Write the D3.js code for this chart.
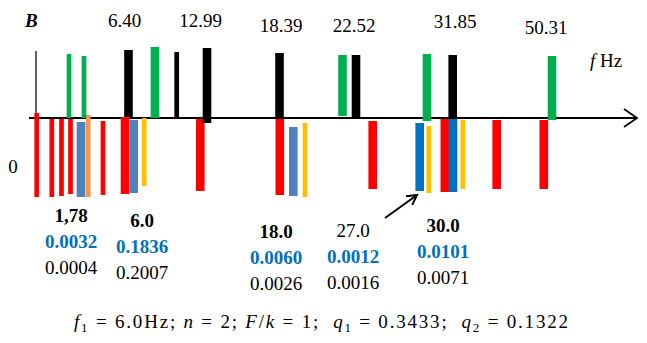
<!DOCTYPE html>
<html><head><meta charset="utf-8">
<script src="https://cdn.jsdelivr.net/npm/d3@7"></script>
<style>body{margin:0;background:#fff}svg{display:block}</style>
</head><body>
<script>
// ---- data ----
const upperPos    = [39, 54, 98.5, 125, 146.7, 177, 249.5, 312.5, 326, 397, 422.7, 522];
const upperBase   = [0, 0, 1, 0, 1, -5, -1, 2, -1, -3, -1, -2];
const upperTip    = [64, 62, 68, 71, 66, 70, 65, 63, 63, 64, 63, 62];
const upperSeries = ['green','green','black','green','black','black','black','green','black','green','black','green'];
const upperWeight = ['thin','thin','thick','thick','thin','thick','thick','thick','thick','thick','thick','thick'];

const lowerPos    = [6.7, 21.8, 31.5, 40.5, 51, 58.2, 73, 95, 103.7, 114.2, 170.3, 249.8, 263.3, 275, 342.7, 389.7, 398.8, 414.8, 423, 432.8, 466.7, 513.8];
const lowerBase   = [5, -1, -1, -1, -4, 3, -3, 1, -2, 0, -1, -1, -9, -5, -3, -5, -8, -1, -1, -2, -2, -2];
const lowerTip    = [-79, -79, -78, -76, -79, -79, -77, -76, -75, -68, -73, -77, -78, -79, -71, -73, -75, -74, -74, -71, -71, -71];
const lowerSeries = ['red','red','red','red','steel','orange','red','red','steel','yellow','red','red','steel','yellow','red','blue','yellow','red','blue','yellow','red','red'];
const lowerWeight = ['thin','thin','thin','thin','thick','thin','thin','thick','thick','thin','thick','thick','thick','thin','thick','thick','thin','thick','thick','thin','thick','thick'];

const topLabels   = ['6.40','12.99','18.39','22.52','31.85','50.31'];
const topPos      = [94.5, 170.5, 251, 324, 425, 516];
const topLevel    = [91, 91, 86, 86, 90, 84];

const groupFreq     = ['1,78','6.0','18.0','27.0','30.0'];
const groupFreqBold = [true, true, true, false, true];
const groupBlue     = ['0.0032','0.1836','0.0060','0.0012','0.0101'];
const groupBlack    = ['0.0004','0.2007','0.0026','0.0016','0.0071'];
const groupPos      = [41, 112, 246, 323, 413];
const groupLevel    = [-104, -109, -120, -119, -114];

// ---- styles ----
const colors = {red:'#FF0000', green:'#00B050', black:'#000000', steel:'#4F81BD', blue:'#0070C0', orange:'#F79646', yellow:'#FFC000'};
const widths = {thin:4.7, thick:8.6};

const W = 647, H = 343;
const svg = d3.select('body').append('svg').attr('width', W).attr('height', H);
const x = d3.scaleLinear().domain([0, 600]).range([30, 630]);
const y = d3.scaleLinear().domain([-80, 70]).range([198, 48]);
const serif = "'Liberation Serif','Times New Roman',serif";

// horizontal f axis with arrow
svg.append('line').attr('x1', x(-1)).attr('x2', x(606)).attr('y1', y(0)).attr('y2', y(0))
  .attr('stroke', '#000').attr('stroke-width', 2);
svg.append('path').attr('d', `M${x(594)},${y(9)} L${x(607)},${y(0)} L${x(594)},${y(-9)}`)
  .attr('fill', 'none').attr('stroke', '#000').attr('stroke-width', 1.8);
// vertical B axis
svg.append('line').attr('x1', x(6)).attr('x2', x(6)).attr('y1', y(0)).attr('y2', y(67))
  .attr('stroke', '#222').attr('stroke-width', 1.4);

function bars(pos, base, tip, series, weight) {
  svg.append('g').selectAll('rect').data(pos).join('rect')
    .attr('x', (d, i) => x(d) - widths[weight[i]] / 2)
    .attr('width', (d, i) => widths[weight[i]])
    .attr('y', (d, i) => y(Math.max(base[i], tip[i])))
    .attr('height', (d, i) => Math.abs(y(base[i]) - y(tip[i])))
    .attr('fill', (d, i) => colors[series[i]]);
}
bars(lowerPos, lowerBase, lowerTip, lowerSeries, lowerWeight);
bars(upperPos, upperBase, upperTip, upperSeries, upperWeight);

// top labels
svg.append('g').selectAll('text').data(topLabels).join('text')
  .attr('x', (d, i) => x(topPos[i])).attr('y', (d, i) => y(topLevel[i]))
  .attr('text-anchor', 'middle').attr('font-family', serif).attr('font-size', 19)
  .text(d => d);

svg.append('text').attr('x', x(-5)).attr('y', y(91)).attr('font-family', serif)
  .attr('font-size', 19).attr('font-weight', 'bold').attr('font-style', 'italic').text('B');
svg.append('text').attr('x', x(-17)).attr('y', y(-55)).attr('font-family', serif)
  .attr('font-size', 19).attr('text-anchor', 'middle').text('0');

const fhz = svg.append('text').attr('x', x(560)).attr('y', y(51)).attr('font-family', serif).attr('font-size', 19);
fhz.append('tspan').attr('font-style', 'italic').text('f');
fhz.append('tspan').text(' Hz');

// bottom groups
const g = svg.append('g').attr('font-family', serif).attr('font-size', 19).attr('text-anchor', 'middle');
groupFreq.forEach((f, i) => {
  const cx = x(groupPos[i]), by = y(groupLevel[i]);
  g.append('text').attr('x', cx).attr('y', by).attr('font-weight', groupFreqBold[i] ? 'bold' : 'normal').text(f);
  g.append('text').attr('x', cx).attr('y', by + 26).attr('font-weight', 'bold').attr('fill', colors.blue).text(groupBlue[i]);
  g.append('text').attr('x', cx).attr('y', by + 52).text(groupBlack[i]);
});

// annotation arrow
const a0 = [355, -100], a1 = [387, -77];
svg.append('line').attr('x1', x(a0[0])).attr('y1', y(a0[1])).attr('x2', x(a1[0])).attr('y2', y(a1[1]))
  .attr('stroke', '#000').attr('stroke-width', 2);
{
  const X1 = x(a1[0]), Y1 = y(a1[1]);
  const ang = Math.atan2(y(a1[1]) - y(a0[1]), x(a1[0]) - x(a0[0]));
  const L = 11, s = 0.5;
  const p1 = [X1 - L * Math.cos(ang - s), Y1 - L * Math.sin(ang - s)];
  const p2 = [X1 - L * Math.cos(ang + s), Y1 - L * Math.sin(ang + s)];
  svg.append('path').attr('d', `M${p1} L${X1},${Y1} L${p2}`).attr('fill', 'none')
    .attr('stroke', '#000').attr('stroke-width', 2);
}

// formula
const formulaParts = [
  ['f', 'i'], ['1', 's'], [' = 6.0Hz; ', ''], ['n', 'i'], [' = 2; ', ''], ['F', 'i'], ['/', ''], ['k', 'i'],
  [' = 1;  ', ''], ['q', 'i'], ['1', 's'], [' = 0.3433;  ', ''], ['q', 'i'], ['2', 's'], [' = 0.1322', '']
];
const ft = svg.append('text').attr('x', 74).attr('y', 328).attr('font-family', serif).attr('font-size', 19)
  .attr('xml:space', 'preserve').style('white-space', 'pre');
formulaParts.forEach(([t, k], i) => {
  const ts = ft.append('tspan').text(t);
  if (k === 'i') ts.attr('font-style', 'italic');
  if (k === 's') ts.attr('font-size', 13).attr('dy', 4);
  if (i > 0 && formulaParts[i - 1][1] === 's') ts.attr('dy', -4);
});
const len = ft.node().getComputedTextLength();
ft.attr('textLength', 494).attr('lengthAdjust', 'spacing');
</script>
</body></html>
